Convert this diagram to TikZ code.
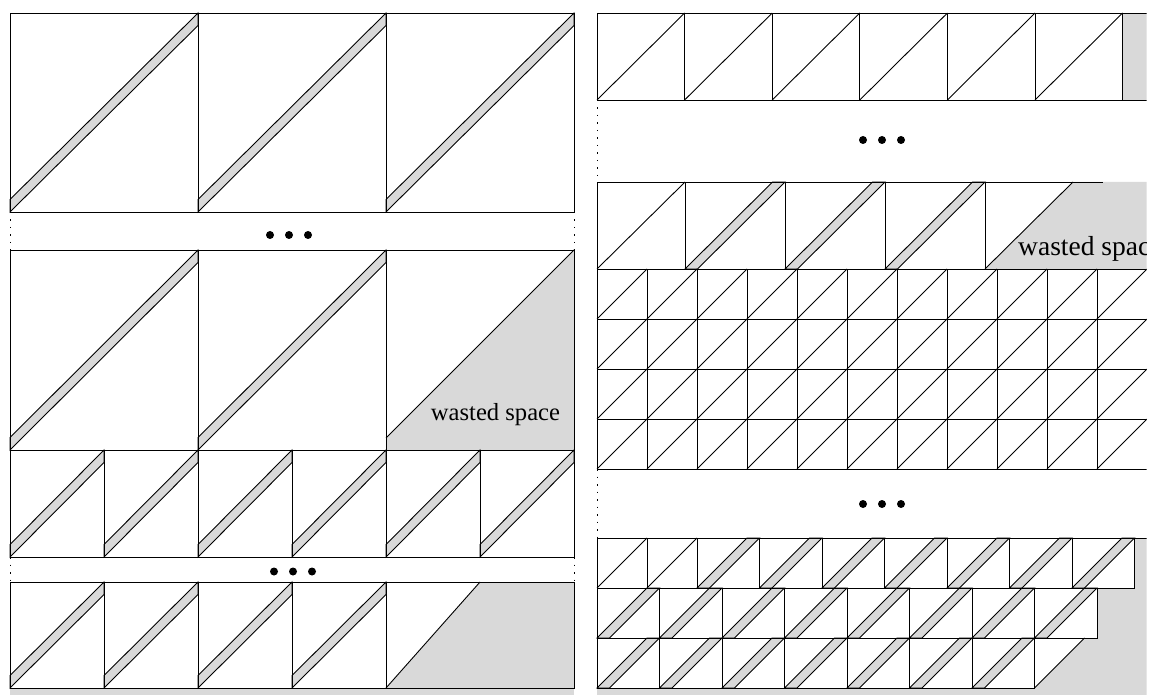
\documentclass[tikz,border=0pt]{standalone}
\usepackage{fontspec}
\setmainfont{Liberation Serif}
\definecolor{wgray}{RGB}{217,217,217}
\tikzset{
  cellbox/.style={draw=black, line width=0.9pt},
  bandfill/.style={fill=wgray, draw=black, line width=0.9pt},
  wastefill/.style={fill=wgray},
  thinline/.style={draw=black, line width=0.9pt},
  dotline/.style={draw=black, line width=1pt, dash pattern=on 1.5pt off 6pt},
  elldot/.style={fill=black},
  wastelabel/.style={font=\fontsize{24.6}{29}\selectfont, inner sep=0pt},
  wastelabelR/.style={font=\fontsize{27.5}{32}\selectfont, inner sep=0pt}
}
% vertical band cell: x0, ytop, w, h, b
\newcommand{\vbandcell}[5]{%
  \draw[bandfill] (#1,#2+#4) -- (#1+#3,#2+#5) -- (#1+#3,#2) -- (#1,#2+#4-#5) -- cycle;
  \draw[cellbox] (#1,#2) rectangle (#1+#3,#2+#4);
}
% horizontal band cell: x0, ytop, w, h, b
\newcommand{\hbandcell}[5]{%
  \draw[bandfill] (#1,#2+#4) -- (#1+#3-#5,#2) -- (#1+#3,#2) -- (#1+#5,#2+#4) -- cycle;
  \draw[cellbox] (#1,#2) rectangle (#1+#3,#2+#4);
}
% plain diagonal cell: x0, ytop, w, h
\newcommand{\diagcell}[4]{%
  \draw[cellbox] (#1,#2) rectangle (#1+#3,#2+#4);
  \draw[thinline] (#1,#2+#4) -- (#1+#3,#2);
}
\begin{document}
\begin{tikzpicture}[x=1pt,y=-1pt]
\useasboundingbox (0,0) rectangle (1149,695);
\begin{scope}
\clip (0,0) rectangle (1146.5,695);
% ================= LEFT PANEL =================
% row A
\foreach \i in {0,1,2} { \vbandcell{10+188*\i}{13}{188}{199}{12.5} }
\draw[dotline] (10,212) -- (10,250);
\draw[dotline] (574,212) -- (574,250);
\foreach \x in {270,289,308} { \fill[elldot] (\x,235) circle (4); }
% row B
\foreach \i in {0,1} { \vbandcell{10+188*\i}{250}{188}{200}{12.5} }
\fill[wastefill] (386,450) -- (386,438) -- (574,250) -- (574,450) -- cycle;
\draw[thinline] (386,438) -- (574,250);
\draw[cellbox] (386,250) rectangle (574,450);
\node[wastelabel, anchor=base] (lw) at (495.5,420) {wasted space};
% row C
\foreach \i in {0,...,5} { \vbandcell{10+94*\i}{450}{94}{107}{12.5} }
\draw[dotline] (10,557) -- (10,582);
\draw[dotline] (574,557) -- (574,582);
\foreach \x in {274,293,312} { \fill[elldot] (\x,571.5) circle (4); }
% row D
\foreach \i in {0,...,3} { \vbandcell{10+94*\i}{582}{94}{106}{12.5} }
\fill[wastefill] (386,688) -- (480,582) -- (574,582) -- (574,688) -- cycle;
\draw[thinline] (386,688) -- (480,582);
\draw[cellbox] (386,582) rectangle (574,688);
\fill[wastefill] (10,688) rectangle (574,700);
\draw[thinline] (10,688) -- (574,688);
% ================= RIGHT PANEL =================
% row R1
\foreach \i in {0,...,5} { \diagcell{597+87.6*\i}{13}{87.6}{87} }
\fill[wastefill] (1122.6,13) rectangle (1160,100);
\draw[thinline] (1122.6,13) -- (1160,13);
\draw[thinline] (1122.6,100) -- (1160,100);
\draw[thinline] (1122.6,13) -- (1122.6,100);
\draw[dotline] (597,100) -- (597,182);
\foreach \x in {863,882,901} { \fill[elldot] (\x,140) circle (4); }
% row R2
\diagcell{597}{182}{88}{87}
\foreach \i in {0,1,2} { \hbandcell{685+100*\i}{182}{100}{87}{12.5} }
\fill[wastefill] (985,269) -- (1073,182) -- (1160,182) -- (1160,269) -- cycle;
\draw[thinline] (985,269) -- (1073,182);
\draw[thinline] (985,182) -- (1103,182);
\node[wastelabelR, anchor=base west] (rw) at (1018,256) {wasted space};
% grid
\foreach \r in {0,...,3} {
  \foreach \c in {0,...,10} { \diagcell{597+50*\c}{269+50*\r}{50}{50} }
}
\draw[dotline] (597,469) -- (597,538);
\foreach \x in {863,882,901} { \fill[elldot] (\x,504) circle (4); }
% bottom staircase waste
\fill[wastefill] (1134.5,538) -- (1160,538) -- (1160,700) -- (597,700) -- (597,688)
  -- (1034.5,688) -- (1084.5,638) -- (1097,638) -- (1097,588) -- (1134.5,588) -- cycle;
\draw[thinline] (1134.5,538) -- (1160,538);
% row S1
\diagcell{597}{538}{50}{50}
\diagcell{647}{538}{50}{50}
\foreach \i in {0,...,6} { \hbandcell{697+62.5*\i}{538}{62.5}{50}{12.5} }
% row S2
\foreach \i in {0,...,7} { \hbandcell{597+62.5*\i}{588}{62.5}{50}{12.5} }
% row S3
\foreach \i in {0,...,6} { \hbandcell{597+62.5*\i}{638}{62.5}{50}{12.5} }
\draw[thinline] (1034.5,688) -- (1084.5,638);
\end{scope}
\end{tikzpicture}
\end{document}
